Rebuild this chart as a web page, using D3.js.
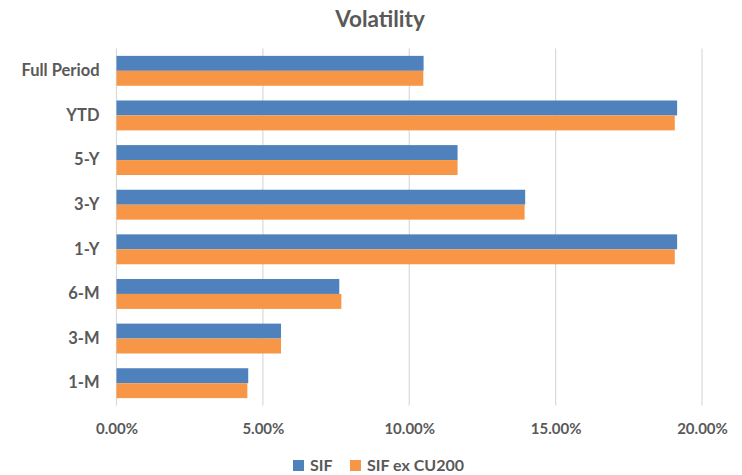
<!DOCTYPE html>
<html><head><meta charset="utf-8">
<script src="https://cdn.jsdelivr.net/npm/d3@7/dist/d3.min.js"></script>
<style>body{margin:0;background:#fff}svg{display:block}</style>
</head><body><svg id="c" width="742" height="475"></svg>
<script>
const categories = ["Full Period","YTD","5-Y","3-Y","1-Y","6-M","3-M","1-M"];
const seriesNames = ["SIF","SIF ex CU200"];
const sif = [10.49,19.15,11.65,13.96,19.15,7.61,5.62,4.50];
const sifEx = [10.48,19.07,11.65,13.94,19.07,7.68,5.62,4.47];
const xTicks = [0,5,10,15,20];
const colors = ["#4F81BD","#F79646"];

(function(){
const svg = d3.select("#c");
const font = "Lato, 'Open Sans', sans-serif";
const textColor = "#595959";
const pLeft = 116.5, pRight = 702, pTop = 48.5, pBottom = 405.5;

const x = d3.scaleLinear().domain([0,20]).range([pLeft,pRight]);
const y = d3.scaleBand().domain(categories).range([pTop,pBottom]).paddingInner(0.33).paddingOuter(0.165);
const y2 = d3.scaleBand().domain(seriesNames).range([0,y.bandwidth()]);

svg.append("text").attr("x",380).attr("y",27).attr("text-anchor","middle")
  .attr("font-family",font).attr("font-weight","bold").attr("font-size",22.5)
  .attr("fill",textColor).text("Volatility");

svg.append("g").selectAll("line").data(xTicks).join("line")
  .attr("x1",d=>x(d)).attr("x2",d=>x(d)).attr("y1",pTop).attr("y2",pBottom)
  .attr("stroke","#d9d9d9").attr("stroke-width",1.2);

const data = categories.map((c,i)=>({c, vals:[sif[i],sifEx[i]]}));
const g = svg.append("g").selectAll("g").data(data).join("g")
  .attr("transform",d=>`translate(0,${y(d.c)})`);
g.selectAll("rect").data(d=>d.vals.map((v,j)=>({v,s:seriesNames[j],j}))).join("rect")
  .attr("x",x(0)).attr("y",d=>y2(d.s)).attr("width",d=>x(d.v)-x(0)).attr("height",y2.bandwidth())
  .attr("fill",d=>colors[d.j]);

const xAxis = d3.axisBottom(x).tickValues(xTicks).tickFormat(d=>d.toFixed(2)+"%").tickSize(0).tickPadding(18);
const xa = svg.append("g").attr("transform",`translate(0,${pBottom})`).call(xAxis);
xa.select(".domain").remove();
xa.selectAll("text").attr("font-family",font).attr("font-weight","bold").attr("font-size",15).attr("fill",textColor);

const yAxis = d3.axisLeft(y).tickSize(0).tickPadding(17);
const ya = svg.append("g").attr("transform",`translate(${pLeft},0)`).call(yAxis);
ya.select(".domain").remove();
ya.selectAll("text").attr("font-family",font).attr("font-weight","bold").attr("font-size",16.5).attr("fill",textColor);

const legX = [293, 350];
const lg = svg.append("g").selectAll("g").data(seriesNames).join("g")
  .attr("transform",(d,i)=>`translate(${legX[i]},460)`);
lg.append("rect").attr("width",11).attr("height",11).attr("fill",(d,i)=>colors[i]);
lg.append("text").attr("x",17).attr("y",11).attr("font-family",font).attr("font-weight","bold")
  .attr("font-size",16).attr("fill",textColor).text(d=>d);
})();
</script></body></html>
